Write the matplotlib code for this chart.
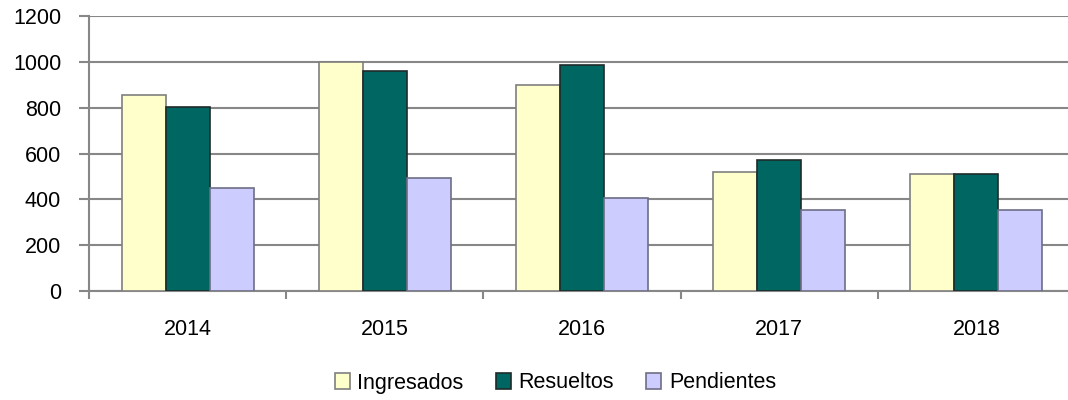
import matplotlib.pyplot as plt
import numpy as np

years = ['2014', '2015', '2016', '2017', '2018']
ingresados = [857, 998, 900, 519, 512]
resueltos = [804, 961, 987, 570, 510]
pendientes = [449, 491, 406, 355, 355]

series = [
    ('Ingresados', ingresados, '#FFFFCC', '#7F7F7F'),
    ('Resueltos', resueltos, '#006661', '#1E2B2A'),
    ('Pendientes', pendientes, '#CCCCFF', '#6E6E86'),
]

plt.rcParams['font.family'] = ['Liberation Sans', 'DejaVu Sans']

fig = plt.figure(figsize=(10.68, 4.0), dpi=100)
# the plot area runs a little past the right edge of the picture
ax = fig.add_axes([0.0833, 0.2725, 0.9232, 0.6875])

x = np.arange(len(years))
width = 0.223
for i, (name, vals, color, edge) in enumerate(series):
    ax.bar(x + (i - 1) * width, vals, width, color=color, edgecolor=edge,
           linewidth=1.2, label=name, zorder=3)

ax.set_ylim(0, 1200)
ax.set_yticks(range(0, 1201, 200))
ax.set_xlim(-0.5, len(years) - 0.5)
ax.yaxis.grid(True, color='#878787', linewidth=1.5, zorder=0)
ax.set_axisbelow(True)

for side in ['top', 'right']:
    ax.spines[side].set_visible(False)
for side in ['left', 'bottom']:
    ax.spines[side].set_color('#878787')
    ax.spines[side].set_linewidth(1.5)

# category labels in the middle, ticks on the boundaries
ax.set_xticks(x)
ax.set_xticklabels(years)
ax.set_xticks(np.arange(-0.5, len(years) - 1), minor=True)
ax.tick_params(axis='x', which='major', length=0, pad=20, labelsize=15.5)
ax.tick_params(axis='x', which='minor', length=6, width=1.5, color='#878787')
ax.tick_params(axis='y', length=7, width=1.5, color='#878787', labelsize=15.5, pad=13)

fig.legend(loc='center', bbox_to_anchor=(0.52, 0.0425), ncol=3, frameon=False,
           fontsize=15.5, handlelength=0.7, handleheight=0.7, handletextpad=0.35,
           columnspacing=1.5)

fig.savefig('out.png', dpi=100)
